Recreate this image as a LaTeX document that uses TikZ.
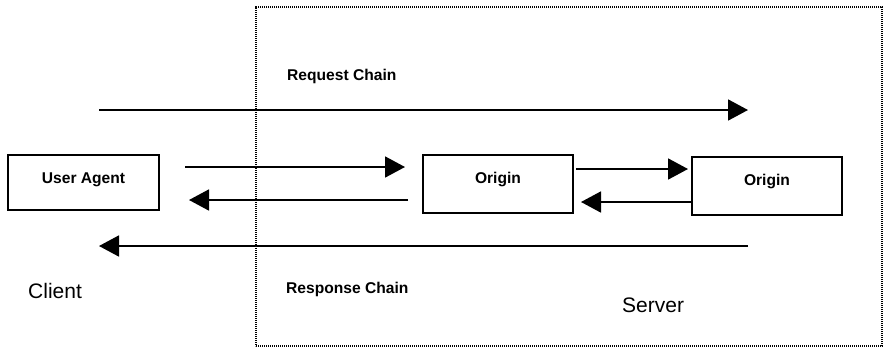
\documentclass[tikz,border=0pt]{standalone}
\usepackage{fontspec}
\setmainfont{Liberation Sans}
\usetikzlibrary{arrows.meta}
\begin{document}
\begin{tikzpicture}[x=1pt,y=-1pt,
  agentbox/.style={draw,line width=1.6pt,minimum width=150pt,inner sep=0pt,font=\fontsize{15.6}{18}\selectfont\bfseries},
  flow/.style={line width=1.8pt,-{Triangle[length=20pt,width=21pt]}},
  chainlabel/.style={anchor=base west,inner sep=0pt,font=\fontsize{15.6}{18}\selectfont\bfseries},
  sidelabel/.style={anchor=base west,inner sep=0pt,font=\fontsize{21}{24}\selectfont}]
\useasboundingbox (0,0) rectangle (883,349);
% server region
\node (srv) [draw,line width=1.4pt,dash pattern=on 1.2pt off 0.8pt,minimum width=626pt,minimum height=339pt,inner sep=0pt] at (569,176.5) {};
% boxes
\node (ua) [agentbox,minimum width=151pt,minimum height=55pt,text depth=8pt] at (83.5,182.5) {User Agent};
\node (o1) [agentbox,minimum height=58pt,text depth=12pt] at (498,184) {Origin};
\node (o2) [agentbox,minimum height=58pt,text depth=12pt] at (767,186) {Origin};
% connector end points
\coordinate (rqs) at (99,110);
\coordinate (rqe) at (748,110);
\coordinate (rss) at (748,246);
\coordinate (rse) at (99,246);
\coordinate (a1s) at (185,167);
\coordinate (a1e) at (405,167);
\coordinate (b1s) at (408,200);
\coordinate (b1e) at (189,200);
\coordinate (a2s) at (576,169);
\coordinate (a2e) at (688,169);
\coordinate (b2s) at (692,202);
\coordinate (b2e) at (581,202);
% connectors
\draw[flow] (rqs) -- (rqe);
\draw[flow] (rss) -- (rse);
\draw[flow] (a1s) -- (a1e);
\draw[flow] (b1s) -- (b1e);
\draw[flow] (a2s) -- (a2e);
\draw[flow] (b2s) -- (b2e);
% labels
\node (lrq) [chainlabel] at (287,80) {Request Chain};
\node (lrs) [chainlabel] at (286,293) {Response Chain};
\node (lcl) [sidelabel] at (28,298) {Client};
\node (lsv) [sidelabel] at (622,312) {Server};
\end{tikzpicture}
\end{document}
